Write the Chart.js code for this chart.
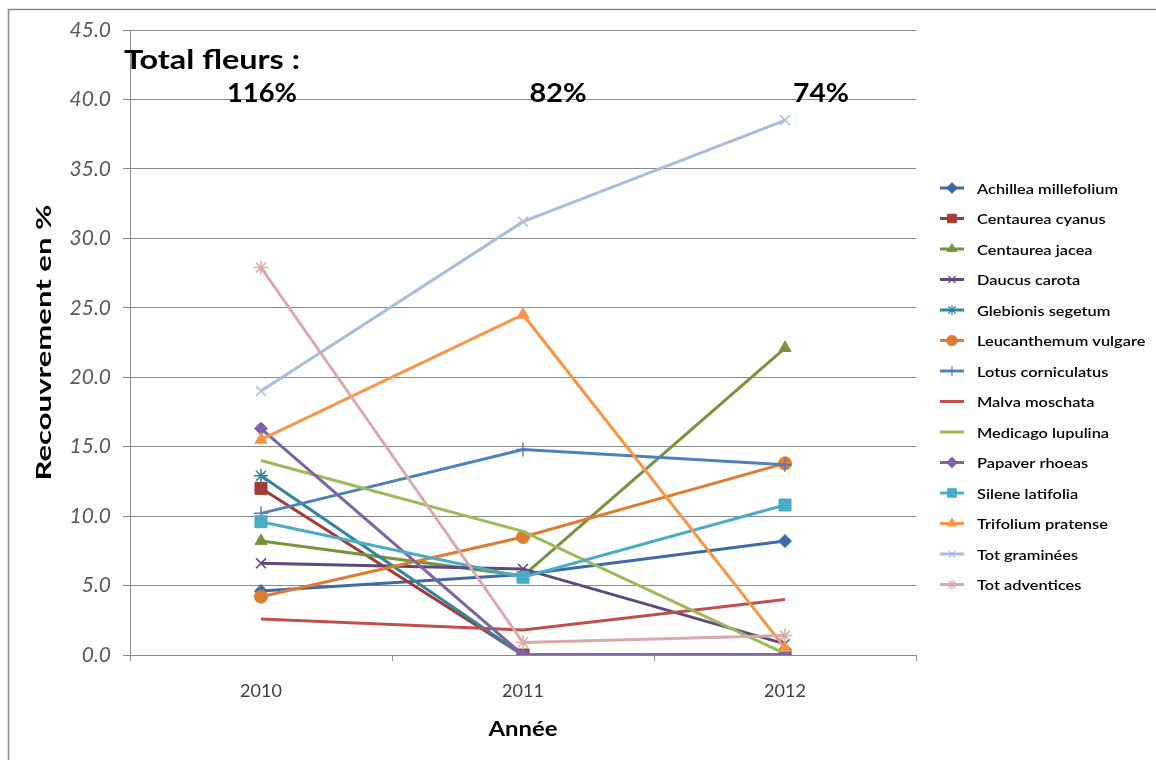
<!DOCTYPE html>
<html>
<head>
<meta charset="utf-8">
<script src="https://cdn.jsdelivr.net/npm/chart.js"></script>
<style>
  html, body { margin: 0; padding: 0; background: #fff; }
  #wrap { width: 1156px; height: 760px; position: relative; }
</style>
</head>
<body>
<div id="wrap"><canvas id="chart" width="1156" height="760"></canvas></div>
<script>
// Données (recouvrement en %)
const years = ['2010', '2011', '2012'];
const yTicks = [0, 5, 10, 15, 20, 25, 30, 35, 40, 45];

const achillea      = [4.6, 5.8, 8.2];
const centCyanus    = [12.0, 0.0, 0.0];
const centJacea     = [8.2, 5.7, 22.1];
const daucus        = [6.6, 6.2, 0.8];
const glebionis     = [12.9, 0.0, 0.0];
const leucanthemum  = [4.2, 8.5, 13.8];
const lotus         = [10.2, 14.8, 13.7];
const malva         = [2.6, 1.8, 4.0];
const medicago      = [14.0, 8.9, 0.1];
const papaver       = [16.3, 0.0, 0.0];
const silene        = [9.6, 5.6, 10.8];
const trifolium     = [15.5, 24.5, 0.5];
const totGraminees  = [19.0, 31.2, 38.5];
const totAdventices = [27.9, 0.9, 1.4];

const totalLabels = ['116%', '82%', '74%'];

const FONT = 'Lato, "Open Sans", sans-serif';

const series = [
    { label: 'Achillea millefolium', data: achillea,      color: '#3F6AA5', style: 'rectRot' },
    { label: 'Centaurea cyanus',     data: centCyanus,    color: '#A33A36', style: 'rect' },
    { label: 'Centaurea jacea',      data: centJacea,     color: '#77933C', style: 'triangle' },
    { label: 'Daucus carota',        data: daucus,        color: '#5F497A', style: 'crossRot' },
    { label: 'Glebionis segetum',    data: glebionis,     color: '#31859C', style: 'star' },
    { label: 'Leucanthemum vulgare', data: leucanthemum,  color: '#DE7C30', style: 'circle' },
    { label: 'Lotus corniculatus',   data: lotus,         color: '#4F81BD', style: 'cross' },
    { label: 'Malva moschata',       data: malva,         color: '#C0504D', style: false },
    { label: 'Medicago lupulina',    data: medicago,      color: '#9BBB59', style: false },
    { label: 'Papaver rhoeas',       data: papaver,       color: '#8064A2', style: 'rectRot' },
    { label: 'Silene latifolia',     data: silene,        color: '#4BACC6', style: 'rect' },
    { label: 'Trifolium pratense',   data: trifolium,     color: '#F79646', style: 'triangle' },
    { label: 'Tot graminées',        data: totGraminees,  color: '#A9BDDD', style: 'crossRot' },
    { label: 'Tot adventices',       data: totAdventices, color: '#D8A9A8', style: 'star' }
];

const isStroked = s => s === 'crossRot' || s === 'star' || s === 'cross';

function markerRadius(style) {
    if (style === 'rect') return 8.5;
    if (style === 'rectRot') return 6.5;
    if (style === 'circle') return 6.5;
    if (style === 'triangle') return 7;
    return 7;
}

const datasets = series.map((s, i) => ({
    label: s.label,
    data: s.data,
    borderColor: s.color,
    backgroundColor: s.color,
    borderWidth: 3,
    pointStyle: s.style,
    pointRadius: s.style ? markerRadius(s.style) : 0,
    pointBorderWidth: isStroked(s.style) ? 1.5 : 1,
    pointBackgroundColor: s.color,
    pointBorderColor: s.color,
    tension: 0,
    order: -i
}));

// texte étiré horizontalement jusqu'à une largeur donnée
function fitText(ctx, text, x, y, width, align) {
    const w = ctx.measureText(text).width;
    const sx = width / w;
    let left = x;
    if (align === 'center') left = x - width / 2;
    ctx.save();
    ctx.textAlign = 'left';
    ctx.translate(left, y);
    ctx.scale(sx, 1);
    ctx.fillText(text, 0, 0);
    ctx.restore();
}

// Cadre, titres, annotations et légende façon Excel
const decorPlugin = {
    id: 'decor',
    afterDraw(chart) {
        const ctx = chart.ctx;
        const xs = chart.scales.x;
        const area = chart.chartArea;
        ctx.save();

        // cadre extérieur
        ctx.strokeStyle = '#8a8a8a';
        ctx.lineWidth = 1.5;
        ctx.beginPath();
        ctx.moveTo(8.5, 770);
        ctx.lineTo(8.5, 9.5);
        ctx.lineTo(1160, 9.5);
        ctx.stroke();

        // titres des axes
        ctx.fillStyle = '#000';
        ctx.textBaseline = 'middle';
        ctx.font = 'bold 20px ' + FONT;
        fitText(ctx, 'Année', (area.left + area.right) / 2, 730, 69, 'center');
        ctx.save();
        ctx.translate(45, (area.top + area.bottom) / 2);
        ctx.rotate(-Math.PI / 2);
        fitText(ctx, 'Recouvrement en %', 0, 0, 276, 'center');
        ctx.restore();

        // annotations
        ctx.font = 'bold 26px ' + FONT;
        fitText(ctx, 'Total fleurs :', 124, 61, 176, 'left');
        const dx = [1, 35, 36];
        const widths = [70, 57, 56];
        totalLabels.forEach((t, i) => {
            fitText(ctx, t, xs.getPixelForValue(i) + dx[i], 94, widths[i], 'center');
        });

        // légende
        ctx.font = '600 14px ' + FONT;
        const sx = 141 / ctx.measureText(series[0].label).width;
        series.forEach((s, i) => {
            const y = 188 + i * 30.5;
            ctx.strokeStyle = s.color;
            ctx.fillStyle = s.color;
            ctx.lineWidth = 3;
            ctx.beginPath();
            ctx.moveTo(940, y);
            ctx.lineTo(964, y);
            ctx.stroke();
            if (s.style && Chart.helpers && Chart.helpers.drawPoint) {
                ctx.lineWidth = 1.2;
                const r = s.style === 'rect' ? 6 : 5;
                Chart.helpers.drawPoint(ctx, { pointStyle: s.style, radius: r, rotation: 0, borderWidth: 1.2 }, 952, y);
            }
            ctx.fillStyle = '#000';
            const w = ctx.measureText(s.label).width * sx;
            fitText(ctx, s.label, 977, y + 1, w, 'left');
        });
        ctx.restore();
    }
};

new Chart(document.getElementById('chart'), {
    type: 'line',
    data: { labels: years, datasets: datasets },
    options: {
        responsive: false,
        animation: false,
        layout: { padding: { left: 0, right: 240, top: 30, bottom: 0 } },
        plugins: {
            legend: { display: false },
            tooltip: { enabled: false }
        },
        scales: {
            x: {
                offset: true,
                grid: {
                    offset: true,
                    drawOnChartArea: false,
                    drawTicks: true,
                    tickLength: 6,
                    color: '#8a8a8a'
                },
                border: { display: true, color: '#8a8a8a', width: 1 },
                ticks: {
                    padding: 19,
                    color: '#404040',
                    font: { family: FONT, size: 18 }
                },
                afterFit(scale) { scale.height = 105; }
            },
            y: {
                min: 0,
                max: 45,
                afterBuildTicks(scale) {
                    scale.ticks = yTicks.map(v => ({ value: v }));
                },
                grid: {
                    color: '#8a8a8a',
                    lineWidth: 1,
                    tickLength: 7
                },
                border: { display: true, color: '#8a8a8a', width: 1 },
                ticks: {
                    padding: 12,
                    color: '#595959',
                    font: { family: FONT, size: 21, style: 'italic' },
                    callback: v => Number(v).toFixed(1)
                },
                afterFit(scale) { scale.width = 130; }
            }
        }
    },
    plugins: [decorPlugin]
});
</script>
</body>
</html>
